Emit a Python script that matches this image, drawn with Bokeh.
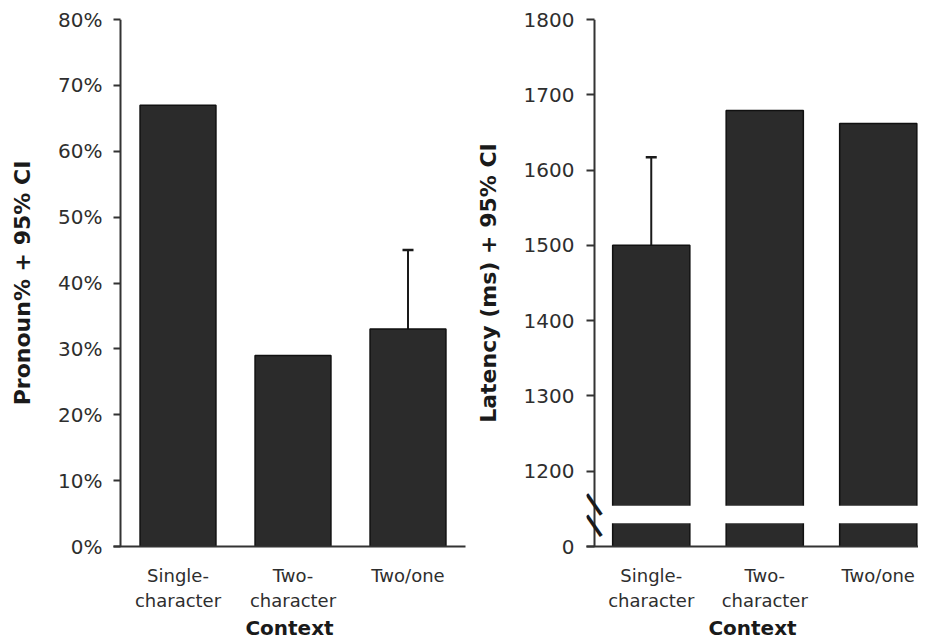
import math
from bokeh.plotting import figure
from bokeh.layouts import row
from bokeh.models import (ColumnDataSource, FixedTicker, NumeralTickFormatter, Range1d,
                          Whisker, TeeHead, BoxAnnotation, Label, Span)
from bokeh.embed import file_html
from bokeh.resources import INLINE

# ---------------- data ----------------
categories = ["Single-\ncharacter", "Two-\ncharacter", "Two/one"]
pronoun_pct = [0.67, 0.29, 0.33]
pronoun_ci_upper = [float("nan"), float("nan"), 0.45]
latency_ms = [1500, 1679, 1662]
latency_ci_upper = [1617, float("nan"), float("nan")]
pct_ticks = [0.0, 0.1, 0.2, 0.3, 0.4, 0.5, 0.6, 0.7, 0.8]
lat_ticks = [1200, 1300, 1400, 1500, 1600, 1700, 1800]

# display offset for the broken latency axis: 0 ms is drawn at LAT_ZERO
LAT_ZERO = 1100
BREAK_LO, BREAK_HI = 1131, 1154

FONT = "DejaVu Sans"
TXT = "#2e2e2e"
AX = "#333333"
BAR = "#2b2b2b"

xs = [i + 0.5 for i in range(len(categories))]
labels = {x: c for x, c in zip(xs, categories)}


def style(p, ylabel, overhang, standoff):
    p.toolbar_location = None
    p.outline_line_color = None
    p.xgrid.visible = False
    p.ygrid.visible = False
    p.background_fill_color = "white"
    p.border_fill_color = "white"
    xa = p.xaxis[0]
    xa.ticker = FixedTicker(ticks=xs)
    xa.major_label_overrides = labels
    xa.major_tick_line_color = None
    xa.minor_tick_line_color = None
    xa.major_label_text_font = FONT
    xa.major_label_text_font_size = "18px"
    xa.major_label_text_color = TXT
    xa.major_label_standoff = 12
    xa.major_label_text_line_height = 1.2
    xa.axis_label = "Context"
    xa.axis_label_text_font = FONT
    xa.axis_label_text_font_style = "bold"
    xa.axis_label_text_font_size = "20px"
    xa.axis_label_text_color = "#1a1a1a"
    xa.axis_label_standoff = 2
    xa.axis_line_color = AX
    xa.axis_line_width = 2
    ya = p.yaxis[0]
    ya.minor_tick_line_color = None
    # the visible y axis line sits `overhang` px inside the frame; ticks reach it
    ya.major_tick_out = 0
    ya.major_tick_in = overhang
    ya.major_tick_line_color = AX
    ya.major_tick_line_width = 2
    ya.axis_line_color = None
    ya.major_label_text_font = FONT
    ya.major_label_text_font_size = "20px"
    ya.major_label_text_color = TXT
    ya.major_label_standoff = standoff
    ya.axis_label = ylabel
    ya.axis_label_text_font = FONT
    ya.axis_label_text_font_style = "bold"
    ya.axis_label_text_font_size = "22px"
    ya.axis_label_text_color = "#1a1a1a"
    ya.axis_label_standoff = 20
    p.add_layout(Span(location=0, dimension="height", line_color=AX, line_width=2))


# ---------------- left panel ----------------
U1 = 115.0   # pixels per category
L1 = 7       # baseline overhang left of the y axis, px
p1 = figure(frame_width=352, frame_height=527, min_border_left=113, min_border_right=3,
            min_border_top=19, min_border_bottom=92,
            x_range=Range1d(-L1 / U1, (352 - L1) / U1), y_range=Range1d(0, 0.8),
            output_backend="svg", toolbar_location=None)
style(p1, "Pronoun% + 95% CI", L1, 11)
p1.yaxis[0].ticker = FixedTicker(ticks=pct_ticks)
p1.yaxis[0].formatter = NumeralTickFormatter(format="0%")

src1 = ColumnDataSource(dict(x=xs, top=pronoun_pct))
p1.vbar(x="x", top="top", bottom=0, width=0.66, source=src1,
        fill_color=BAR, line_color="#111111", line_width=1.5)
e1 = [(x, v, u) for x, v, u in zip(xs, pronoun_pct, pronoun_ci_upper) if not math.isnan(u)]
ws1 = ColumnDataSource(dict(x=[a[0] for a in e1], lo=[a[1] for a in e1], hi=[a[2] for a in e1]))
p1.add_layout(Whisker(source=ws1, base="x", lower="lo", upper="hi", dimension="height",
                      line_color="#1a1a1a", line_width=2, lower_head=None,
                      upper_head=TeeHead(size=11, line_width=2.5, line_color="#1a1a1a")))

# ---------------- right panel ----------------
U2 = 113.5
L2 = 8
p2 = figure(frame_width=332, frame_height=527, min_border_left=118, min_border_right=0,
            min_border_top=19, min_border_bottom=92,
            x_range=Range1d(-L2 / U2, (332 - L2) / U2), y_range=Range1d(LAT_ZERO, 1800),
            output_backend="svg", toolbar_location=None)
style(p2, "Latency (ms) + 95% CI", L2, 12)
p2.yaxis[0].ticker = FixedTicker(ticks=[LAT_ZERO] + lat_ticks)
p2.yaxis[0].major_label_overrides = {LAT_ZERO: "0"}

src2 = ColumnDataSource(dict(x=xs, top=latency_ms))
p2.vbar(x="x", top="top", bottom=LAT_ZERO, width=0.68, source=src2,
        fill_color=BAR, line_color="#111111", line_width=1.5)
e2 = [(x, v, u) for x, v, u in zip(xs, latency_ms, latency_ci_upper) if not math.isnan(u)]
ws2 = ColumnDataSource(dict(x=[a[0] for a in e2], lo=[a[1] for a in e2], hi=[a[2] for a in e2]))
p2.add_layout(Whisker(source=ws2, base="x", lower="lo", upper="hi", dimension="height",
                      line_color="#1a1a1a", line_width=2, lower_head=None,
                      upper_head=TeeHead(size=11, line_width=2.5, line_color="#1a1a1a")))

# axis break: white band through the bars and two slashes on the axis
p2.add_layout(BoxAnnotation(bottom=BREAK_LO, top=BREAK_HI, left=0.05, fill_color="white",
                            fill_alpha=1.0, line_color=None, level="overlay"))
for yc in (BREAK_HI + 3, BREAK_LO - 2):
    p2.add_layout(Label(x=0, y=yc, x_offset=1, text="\u2014", text_font=FONT,
                        text_font_size="28px", text_font_style="bold", text_color="#1a1a1a",
                        text_align="center", text_baseline="middle",
                        angle=-0.96, level="overlay"))

layout = row(p1, p2)
open("out.html", "w").write(file_html(layout, INLINE))
